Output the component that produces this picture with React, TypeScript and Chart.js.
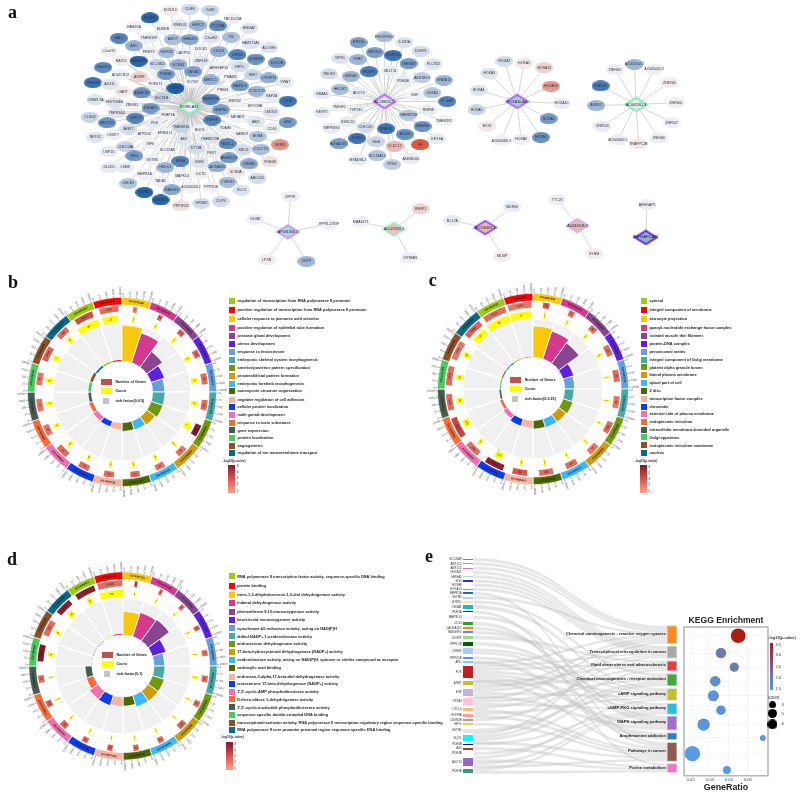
import React, { useEffect, useRef } from 'react';
import { Chart, registerables } from 'chart.js';
Chart.register(...registerables);

type Gene = [string, number, number, number];

// ---------- network a: [gene, layoutX, layoutY, logFC]
const hub1Genes: Gene[] = [
  ['KCNJ10',507,25,.05],['CLMN',566,22,-.15],['GJB2',628,25,-.2],['TBC1D22A',695,50,-.02],['NLRP2',446,48,-.95],['FAM25A',398,75,-.02],['EDNRB',485,80,-.02],['RNF141',537,69,-.1],['HERC5',591,70,-.45],['TTC39A',651,72,-.7],['HMGA2',745,79,-.1],['GALC',353,109,-.75],['TMEM109',443,108,-.05],['AMOT',515,113,-.35],['RHBDD1',566,113,-.5],['C2orf82',630,108,-.1],['PI3',691,106,-.35],['FAM171A1',750,125,-.1],['ALOXE3',805,138,-.1],['ARC',398,132,-.45],['PRMT3',442,150,-.02],['NKIRS2',497,152,-.35],['CADPS2',547,154,-.02],['DOCK1',600,142,-.02],['CXCL6',653,149,-.45],['LRRC6',710,159,-.75],['CDKN2B',765,172,-.65],['DOC2B',829,183,-.6],['C1orf74',322,148,-.02],['NATD1',360,177,.05],['RASGRP4',412,178,-.95],['SLC7A11',469,188,-.2],['KCNS3',532,189,-.45],['ZNF618',600,178,-.1],['HEYL',717,195,-.15],['C8orf101',305,197,-.7],['ARHGEF10',654,198,-.02],['ADIRF',414,226,.2],['ALS2CR12',357,220,-.02],['PDE3B',494,218,-.6],['ONGA1',576,210,-.55],['MIR1C1',629,235,-.45],['PMAM2',689,226,-.02],['MRO',756,220,-.2],['CYP4F11',804,229,-.45],['VWA7',854,242,-.05],['PRKCH',274,243,-.85],['ALG1L',325,248,-.1],['DEXI',523,260,-1],['POFUT1',463,248,-.02],['KCT09',575,242,-.02],['FAM3C4',717,253,-.6],['CIART',364,271,.05],['ARMCX3',421,274,-.65],['PRE84',666,266,-.02],['CCDC170',768,269,-.4],['RAP2A',813,283,-.05],['SLC31B',481,289,-.25],['ZNF202',701,298,-.02],['OSBPL7A',282,295,-.1],['HIST1H4B',339,303,-.1],['ZNF845',392,310,-.02],['CDTK',862,299,-.85],['STEAP2',448,320,-.6],['PAWR100',629,293,-.75],['MYO18B',763,313,-.02],['MMRN2',660,325,-.55],['LMOD3',811,332,-.1],['TMPRSS4',346,334,-.1],['CLDN2',265,347,-.2],['FKBP1A',501,340,-.02],['GIPC2',402,350,-.75],['ENPEP',634,356,-.75],['METAP1',711,348,-.02],['ABI2',765,361,-.1],['SIX4',861,363,-.6],['MUDT12',317,364,-.65],['PDS',459,365,-.05],['TMEM236',540,378,-.2],['NGO1',596,385,-.02],['YDAIM',673,379,-.02],['CD14',814,382,-.05],['AVKIT',381,383,-.15],['SAMD9',723,397,-.02],['BORA',771,405,-.3],['ATP5G2',429,398,-.02],['EPB41L1',492,396,-.02],['NET02',281,408,-.1],['CHST7',335,401,-.02],['AK3',548,414,-.1],['TMEM170B',627,412,-.1],['SRMS',838,430,.6],['CLEC18A',372,436,-.2],['IRF6',447,428,-.02],['NKX1-2',680,427,-.7],['SNCG',728,445,-.15],['CCDC71L',781,444,-.35],['USP25',322,451,-.05],['STT3B',585,441,-.15],['HRG',399,464,-.6],['SLC25A8',498,447,-.02],['PEX7',632,454,-.05],['ANKRD22',684,470,-.6],['PDE6B',808,482,.12],['GSTM5',453,475,-.02],['USH2',595,483,-.1],['N8EA',538,480,-.75],['GREB5',745,488,-.5],['CACNA2D2',648,497,-.45],['GLUD1',323,499,-.05],['LSM8',371,499,-.05],['HKDC1',492,499,-.4],['SCN8A',705,513,.08],['ABCC01',770,531,-.15],['BMPR1A',430,519,-.02],['MAPK14',543,524,-.02],['DCTD',600,518,-.02],['TADA1',478,540,-.02],['CYB5R2',680,543,-.35],['LMCH1',381,547,-.3],['RASSF2',512,566,-.5],['AC004203.2',570,558,-.02],['PPP3CB',630,558,-.02],['KLC3',722,567,-.1],['LISPN1',429,574,-.95],['GALNT1',478,597,-.95],['PPP1R02',540,614,.12],['GPSM2',601,607,-.15],['CLIP4',660,601,-.15],
];
const hub2Genes: Gene[] = [
  ['PHOSPHO1',1153,105,-.35],['HTR1D',1075,122,-.55],['IL10RA',1213,121,-.1],['DUSP1',1263,148,-.15],['IMRG02',1124,152,-.55],['ZDHHC2',1179,161,-.85],['VIPR1',1019,170,-.1],['P3H2',1073,173,-.4],['TMEM37',1226,186,-.6],['PLCXD2',1301,187,-.1],['FCGRT',1107,210,-.8],['MLLT11',1171,207,-.05],['MXRA5',1052,224,-.4],['TMOD2',986,217,-.15],['AKR1B15',1266,228,-.25],['PDE4B',1209,237,-.05],['SPATA12',1332,236,-.4],['HECW2',1019,263,-.35],['ADCY4',1076,273,-.05],['GSTA4',1297,274,-.3],['ESF',1245,282,-.02],['NRAA1',965,277,-.05],['FCGBP',1342,300,-.75],['TMIGF2',1017,316,-.02],['TVP23C',1068,326,-.05],['RNF38',1285,327,-.05],['REXP2',965,333,-.05],['TMEM255B',1225,341,-.3],['TMEM192',1333,358,-.02],['USRC20',1042,361,-.05],['CLEC2D',1096,377,-.15],['SMIM30',1268,375,-.65],['TMPRSS3',993,380,-.05],['RNAGD',1158,382,-.85],['AC006',1215,399,-.65],['ST3G2',1071,411,-.85],['B4GALNT1',1016,427,-.55],['EDA',1128,421,-.2],['KIF16A',1312,413,-.05],['F8',1261,430,.95],['CCDC17',1184,435,.35],['SLC16A14',1131,463,-.3],['ANKRD44',1232,473,-.05],['MYADML2',1073,476,-.05],['RTN2',1176,490,-.25],
];
const hub3Genes: Gene[] = [
  ['HOXA7',1515,179,-.15],['HOXA1',1574,185,.07],['HOXA11',1635,198,.2],['HOXA5',1469,215,-.1],['HOXA13',1655,254,.55],['HOXA4',1437,266,-.1],['HOXA10',1687,306,-.05],['HOXA2',1431,325,-.2],['HOXA6',1648,352,-.6],['EVX1',1463,375,.07],['HOXA3',1625,408,-.65],['AC006080.3',1505,419,-.02],['HOXA9',1565,414,-.03],
];
const hub4Genes: Gene[] = [
  ['AC005002.2',1907,188,-.4],['ZNF605',1848,204,-.03],['AC005002.3',1966,203,-.03],['ZNF546',1805,253,-.8],['ZNF264',2012,243,.05],['ZNF304',2031,304,-.03],['AURKC',1792,312,-.4],['ZNF543',1810,374,-.05],['ZNF547',2019,364,-.03],['AC003002.1',1857,416,-.03],['ZNF460',1980,410,-.03],['TRAPPC2B',1919,428,.08],
];
const hub5Genes: Gene[] = [['ZFP91',870,587,-.03],['GLYAT',764,655,-.03],['ZFP91-CNTF',985,670,-.02],['LPXN',798,777,.05],['CNTF',918,782,-.4]];
const hub6Genes: Gene[] = [['KIAA1671',1081,663,-.02],['RSRP1',1262,624,.2],['CRYBB3',1230,771,-.03]];
const hub7Genes: Gene[] = [['BCL7A',1358,659,-.05],['WDR66',1538,618,-.05],['MLXIP',1508,767,.05]];
const hub8Genes: Gene[] = [['TTC23',1674,596,-.03],['SYNM',1785,759,.05]];
const hub9Genes: Gene[] = [['ARHGAP5',1945,611,-.03]];
const hubNames = ['RORF-AS1','AL139055.1','HOXA10-AS','AC005261.3','AP001350.1','AL022323.1','AC158465.1','AC036108.2','ARHGAP5-AS1'];
const hubX = [565,1153,1553,1912,862,1182,1457,1735,1941];
const hubY = [317,300,300,309,693,685,680,674,710];
const hubFc = [-.03,-.1,-.3,-.05,-.25,.3,.35,.35,-.45];
const hubRim = ['#7ff0b4','#a860f4','#a860f4','#6ff0a8','#c09af4','#9cf0c4','#8a40f0','#cdb0fa','#5a10f0'];

// ---------- GO circles
const sectorColors = ['#9dc814','#ff0000','#f8c80c','#d63a8e','#8a4590','#5a22e0','#64a0dc','#4aa8a8','#70980a','#cc9c0c','#3cb8f8','#4c6800','#f8b4a0','#0c3cf0','#f070b0','#f86c3c','#485c50','#4cc860','#8c5028','#086888'];
const bTerms = ['regulation of transcription from RNA polymerase II promoter','positive regulation of transcription from RNA polymerase II promoter','cellular response to jasmonic acid stimulus','positive regulation of epithelial tube formation','prostate gland development','uterus development','response to testosterone','embryonic skeletal system morphogenesis','anterior/posterior pattern specification','proximal/distal pattern formation','embryonic forelimb morphogenesis','actomyosin structure organization','negative regulation of cell adhesion','cellular protein localization','male gonad development','response to toxic substance','gene expression','protein localization','angiogenesis','regulation of ion transmembrane transport'];
const bIds = ['GO:0006357','GO:0045944','GO:0071395','GO:1905278','GO:0030850','GO:0060065','GO:0033574','GO:0048704','GO:0009952','GO:0009954','GO:0035115','GO:0031032','GO:0007162','GO:0034613','GO:0008584','GO:0009636','GO:0010467','GO:0008104','GO:0001525','GO:0034765'];
const bGenes = ['3724','1391','6','28','103','152','85','55','96','60','59','64','74','78','91','88','97','96','1254','126'];
const bGeneSweep = [13,13,3,3,4.5,5.5,7.5,7,8,7,6.5,6.5,7,7.5,8.5,7.5,8.5,8.5,10,8.5];
const bTone = [4.5,3,2,3,3,3,3,3,8,2.5,2.5,3,3,3,3,2.5,2.5,2.5,3.5,3];
const bCount = ['34','23','1','2','2','3','4','4','7','3','3','3','3','3','4','4','5','6','7','6'];
const bCountSweep = [17,12,1.5,1.6,2,3,3.7,3.7,5.2,2,2,2,2,2,2.6,2.6,3,3.7,4.2,3.7];
const bRich = [.026,.02,.47,.41,.25,.18,.155,.158,.158,.13,.118,.11,.087,.074,.066,.053,.04,.04,.04,.026];

const cTerms = ['cytosol','integral component of membrane','astrocyte projection','guanyl-nucleotide exchange factor complex','striated muscle thin filament','protein-DNA complex','peroxisomal matrix','integral component of Golgi membrane','platelet alpha granule lumen','lateral plasma membrane','apical part of cell','Z disc','transcription factor complex','chromatin','external side of plasma membrane','endoplasmic reticulum','intracellular membrane-bounded organelle','Golgi apparatus','endoplasmic reticulum membrane','nucleus'];
const cIds = ['GO:0005829','GO:0016021','GO:0097449','GO:0032045','GO:0005865','GO:0032993','GO:0005782','GO:0030173','GO:0031093','GO:0016328','GO:0045177','GO:0030018','GO:0005667','GO:0000785','GO:0009897','GO:0005783','GO:0043231','GO:0005794','GO:0005789','GO:0005634'];
const cGenes = ['5477','4408','18','75','80','96','92','88','106','74','84','186','204','1261','198','2314','1042','2045','1856','2498'];
const cGeneSweep = [16,16,4.5,4,5,7.5,8,8,8,7.5,8,9.5,10,13,10,14,11,13,13,13];
const cTone = [3,2.5,4,3,3,3,3,2.5,3,2.5,3,3,4,7.5,3,5,3,3,2.5,3.5];
const cCount = ['85','57','1','1','1','1','1','1','1','1','1','1','2','127','9','125','55','51','28','107'];
const cCountSweep = [18,16,1.3,1.3,1.6,1.6,1.3,1.3,1.3,1.6,1.6,1.6,1.8,5.7,2.6,5.7,4.1,3.9,3.9,11];
const cRich = [.007,.005,.204,.19,.164,.072,.064,.059,.066,.059,.057,.053,.046,.046,.031,.02,.013,.01,.009,.007];

const dTerms = ['RNA polymerase II transcription factor activity, sequence-specific DNA binding','protein binding','trans-1,2-dihydrobenzene-1,2-diol dehydrogenase activity','indanol dehydrogenase activity','phenanthrene 9,10-monooxygenase activity','ketosteroid monooxygenase activity','cytochrome-b5 reductase activity, acting on NAD(P)H','alditol:NADP+ 1-oxidoreductase activity','androsterone dehydrogenase activity','17-beta-hydroxysteroid dehydrogenase (NADP+) activity','oxidoreductase activity, acting on NAD(P)H, quinone or similar compound as acceptor','carboxylic acid binding','androstan-3-alpha,17-beta-diol dehydrogenase activity','testosterone 17-beta-dehydrogenase (NADP+) activity',"3',5'-cyclic-AMP phosphodiesterase activity",'D-threo-aldose 1-dehydrogenase activity',"3',5'-cyclic-nucleotide phosphodiesterase activity",'sequence-specific double-stranded DNA binding','transcriptional activator activity, RNA polymerase II transcription regulatory region sequence-specific binding','RNA polymerase II core promoter proximal region sequence-specific DNA binding'];
const dIds = ['GO:0000981','GO:0005515','GO:0047115','GO:0047718','GO:0018636','GO:0047086','GO:0090560','GO:0004032','GO:0047023','GO:0072582','GO:0016655','GO:0031406','GO:0047024','GO:0047045','GO:0004115','GO:0047834','GO:0004114','GO:1990837','GO:0001228','GO:0000978'];
const dGenes = ['1200','12696','2','9','14','18','27','35','30','43','24','20','20','26','33','28','41','982','764','1021'];
const dGeneSweep = [14,17,2,2.3,3,3.2,4.2,4.5,4.2,5.7,4.2,3.7,3.7,4.2,5,4.5,5,11.5,11,11.5];
const dTone = [7.5,3,5,3,2.5,3,2.5,3,3,3.5,3,3,3.5,3,3.5,3.5,3,8,3,7.5];
const dCount = ['14','134','1','1','1','1','1','2','1','1','1','1','1','1','1','1','1','9','8','16'];
const dCountSweep = [3.6,18,.8,1,1,1,1,2,1,1,1,1,1,1,1,1,1,3,2.6,4.2];
const dRich = [.016,.035,.63,.68,.71,.38,.28,.29,.33,.33,.32,.24,.25,.28,.27,.2,.18,.016,.016,.016];

const tickNames = ['0','10','100','1000','10000'];
const toneTicks = ['8','6','4','2','0'];

// ---------- legend rows (layout units)
const bRowY = [91,119,146,172,198,221,246,270,293,317,341,364,389,412,434,458,482,505,528,550];
const cRowY = [91,118,146,172,197,221,246,269,292,315,339,362,388,411,433,456,480,503,527,549];
const dRowY = [112,140,167,193,220,243,269,293,316,339,365,387,414,436,459,483,507,530,554,576];

// ---------- sankey e
const geneNodes = ['SLC26A9','AKR1C2','AKR1C1','HOXA11','HMGA2','SIX3','HOXB8','HOXA10','BMPR1A','GSTM5','HTR1D','ONGA1','PDE3B','MAP3K14','CD14','CACNA2D2','RASGRF2','DUSP1','PPP1CB','CREB5','PPP3CB','ARC','FOS','ARNT','EGF','GSTA4','CXCL6','EDNRB','CDKN2B','HEYL','GSTM5','NQO1','PDE6B','AK3','PDE4B','ADCY4','PDE3B'];
const geneY = [61,74,87,100,113,126,138,151,163,176,189,204,219,235,254,269,281,297,315,338,358,371,400,434,461,489,512,530,545,558,577,600,618,631,646,672,698];
const geneWeight = [4,3,4,2,4,6,2,4,5,5,5,12,4,10,10,5,6,10,11,18,5,5,36,13,22,20,10,10,5,5,12,17,4,5,2,25,11];
const geneColors = ['#2d8ff0','#a0a0a0','#e070c0','#ffffff','#b0d8f0','#3030d0','#ffffff','#00d0d0','#1070c0','#b0d8e8','#ffe0b0','#20b8c8','#104040','#f6f8f8','#30a030','#ff8820','#9070f0','#98e080','#006000','#b0c8f0','#6090f0','#80d0f0','#c02020','#c0c030','#c8b0e0','#ffc0e0','#ffb878','#ff9c98','#d09090','#d8d850','#e4e4e4','#00ffff','#101090','#a04030','#ffffff','#9868c0','#409090'];
const pathways = ['Chemical carcinogenesis - reactive oxygen species','Transcriptional misregulation in cancer','Fluid shear stress and atherosclerosis','Chemical carcinogenesis - receptor activation','cAMP signaling pathway','cGMP-PKG signaling pathway','MAPK signaling pathway','Amphetamine addiction','Pathways in cancer','Purine metabolism'];
const pathwayY = [288,340,382,424,468,511,554,594,641,690];
const pathwayWeight = [53,36,31,37,37,33,41,20,57,26];
const pathwayColors = ['#ff8820','#a8a8a8','#e04040','#40a840','#c0c030','#28c0d8','#a070c8','#2f80c0','#905a50','#e878c8'];
const linkFrom = [0,1,2,3,4,5,6,7,8,9,10,11,12,13,14,15,16,17,18,19,19,20,21,22,22,22,22,22,22,22,23,23,24,24,24,24,25,25,25,26,26,27,27,28,29,30,31,31,31,31,32,33,34,35,35,35,35,36,36];
const linkTo   = [0,0,0,1,1,1,1,1,8,0,3,4,9,6,8,6,4,2,5,4,5,5,7,0,1,2,4,5,6,8,2,3,0,1,4,6,0,3,5,2,8,4,8,1,8,3,0,2,3,8,5,9,5,4,9,5,8,5,9];

// ---------- KEGG bubbles
const keggRatio = [.04496,.0359,.0429,.0329,.0319,.0359,.0268,.0579,.0209,.039];
const keggLogP = [3.5,2.0,1.95,1.7,1.6,1.62,1.58,1.5,1.5,1.5];
const keggCount = [8.6,6.2,5.5,6.2,6.5,5.6,7.3,3.5,9,4.7];
const keggTicks = [.02,.03,.04,.05];
const keggLegendCounts = [4,5,6];
const keggLogTicks = ['3.5','3.0','2.5','2.0','1.5'];

// ---------- helpers
const rgb = (h: string) => [parseInt(h.slice(1, 3), 16), parseInt(h.slice(3, 5), 16), parseInt(h.slice(5, 7), 16)];
const mix = (a: string, b: string, t: number) => {
  const p = rgb(a), q = rgb(b);
  return `rgb(${p.map((v, i) => Math.round(v + (q[i] - v) * t)).join(',')})`;
};
const fcColor = (f: number) => (f < 0 ? mix('#f2f3f6', '#1e5ba6', -f) : mix('#f2f3f6', '#d94f36', f));
const toneColor = (t: number) => (t < 4 ? mix('#fca58a', '#d8584e', t / 4) : mix('#d8584e', '#80182c', (t - 4) / 4));
const keggColor = (v: number) => mix('#5a9ae0', '#a91f0e', (v - 1.5) / 2);
const keggR = (c: number) => c * 0.85;

const sprite = (w: number, h: number, draw: (c: CanvasRenderingContext2D, w: number, h: number) => void) => {
  const cv = document.createElement('canvas');
  cv.width = Math.max(1, Math.round(w));
  cv.height = Math.max(1, Math.round(h));
  draw(cv.getContext('2d')!, cv.width, cv.height);
  return cv;
};
const ellipseSprite = (w: number, h: number, color: string) =>
  sprite(w, h, (c, W, H) => { c.fillStyle = color; c.beginPath(); c.ellipse(W / 2, H / 2, W / 2, H / 2, 0, 0, 7); c.fill(); });
const diamondSprite = (w: number, h: number, fill: string, rim: string) =>
  sprite(w, h, (c, W, H) => {
    c.fillStyle = fill; c.strokeStyle = rim; c.lineWidth = 1.6;
    c.beginPath(); c.moveTo(W / 2, 1.2); c.lineTo(W - 1.5, H / 2); c.lineTo(W / 2, H - 1.2); c.lineTo(1.5, H / 2); c.closePath(); c.fill(); c.stroke();
  });
const rectSprite = (w: number, h: number, color: string, halo?: string) =>
  sprite(w, h, (c, W, H) => {
    c.fillStyle = color; c.fillRect(0, 0, W, H);
    if (halo) { c.strokeStyle = halo; c.lineWidth = 1; c.strokeRect(.5, .5, W - 1, H - 1); }
  });
const barSprite = (w: number, h: number, top: string, mid: string, bottom: string) =>
  sprite(w, h, (c, W, H) => {
    const g = c.createLinearGradient(0, 0, 0, H);
    g.addColorStop(0, top); g.addColorStop(.5, mid); g.addColorStop(1, bottom);
    c.fillStyle = g; c.fillRect(0, 0, W, H);
  });

type TextItem = { t: string; x: number; y: number; f: string; a?: CanvasTextAlign; c?: string; b?: CanvasTextBaseline };
const NS = '"Liberation Sans"';

const circlePanels = [
  { cx: 122, cy: 392, R: 95, gray: 69, hole: 31, max: .5, terms: bTerms, ids: bIds, genes: bGenes, geneSweep: bGeneSweep, tone: bTone, count: bCount, countSweep: bCountSweep, rich: bRich },
  { cx: 533, cy: 389, R: 96, gray: 70, hole: 32, max: .25, terms: cTerms, ids: cIds, genes: cGenes, geneSweep: cGeneSweep, tone: cTone, count: cCount, countSweep: cCountSweep, rich: cRich },
  { cx: 123, cy: 666, R: 94.5, gray: 68.7, hole: 31.7, max: 1, terms: dTerms, ids: dIds, genes: dGenes, geneSweep: dGeneSweep, tone: dTone, count: dCount, countSweep: dCountSweep, rich: dRich },
];
const FRAME = 112;
const SECTOR = 18;

const boxRing = (sweep: number[]) => sweep.flatMap(w => [(SECTOR - w) / 2, w, (SECTOR - w) / 2]);
const boxColors = (cols: string[]) => cols.flatMap(c => ['rgba(0,0,0,0)', c, 'rgba(0,0,0,0)']);

const makeRingPlugin = (ids: string[], genes: string[], count: string[]) => ({
  id: 'ringText',
  afterDatasetsDraw(chart: any) {
    const ctx = chart.ctx;
    ctx.save();
    ctx.textBaseline = 'middle';
    const tangent = (a: number) => (Math.sin(a) > 0 ? a - Math.PI / 2 : a + Math.PI / 2);
    const put = (t: string, x: number, y: number, r: number, font: string, color: string, align: CanvasTextAlign = 'center') => {
      ctx.save(); ctx.translate(x, y); ctx.rotate(r); ctx.font = font; ctx.fillStyle = color; ctx.textAlign = align; ctx.fillText(t, 0, 0); ctx.restore();
    };
    chart.getDatasetMeta(0).data.forEach((arc: any, i: number) => {
      const { x, y, startAngle: s, endAngle: e, innerRadius: ri, outerRadius: ro } = arc;
      const m = (s + e) / 2, rm = (ri + ro) / 2;
      put(ids[i], x + Math.cos(m) * rm, y + Math.sin(m) * rm, tangent(m), `bold 2.7px ${NS}`, '#222');
      tickNames.forEach((name, k) => {
        const a = s + (e - s) * (.04 + k * .225);
        const c = Math.cos(a), n = Math.sin(a);
        ctx.strokeStyle = '#555'; ctx.lineWidth = .5;
        ctx.beginPath(); ctx.moveTo(x + c * ro, y + n * ro); ctx.lineTo(x + c * (ro + 2), y + n * (ro + 2)); ctx.stroke();
        const left = c < 0;
        put(name, x + c * (ro + 2.6), y + n * (ro + 2.6), left ? a + Math.PI : a, `2.8px ${NS}`, '#555', left ? 'right' : 'left');
      });
    });
    ([[2, genes], [4, count]] as [number, string[]][]).forEach(([idx, labels]) => {
      chart.getDatasetMeta(idx).data.forEach((arc: any, i: number) => {
        if (i % 3 !== 1) return;
        const { x, y, startAngle: s, endAngle: e, innerRadius: ri, outerRadius: ro } = arc;
        const m = (s + e) / 2, rm = (ri + ro) / 2;
        put(labels[(i - 1) / 3], x + Math.cos(m) * rm, y + Math.sin(m) * rm, tangent(m), `2.8px ${NS}`, '#222');
      });
    });
    ctx.restore();
  },
});

const holePlugin = {
  id: 'holeDisc',
  afterDatasetsDraw(chart: any) {
    const s = chart.scales.r;
    const ctx = chart.ctx;
    ctx.save();
    ctx.fillStyle = '#fff';
    ctx.beginPath();
    ctx.arc(s.xCenter, s.yCenter, s.getDistanceFromCenterForValue(0), 0, Math.PI * 2);
    ctx.fill();
    ctx.restore();
  },
};

const plotFrame = {
  id: 'plotFrame',
  beforeDatasetsDraw(chart: any) {
    const { left, top, width, height } = chart.chartArea;
    const ctx = chart.ctx;
    ctx.save(); ctx.strokeStyle = '#b9b9b9'; ctx.lineWidth = 1.6; ctx.strokeRect(left, top, width, height); ctx.restore();
  },
};

function buildPage() {
  const texts: TextItem[] = [];
  const datasets: any[] = [];
  const addMarks = (pts: { x: number; y: number }[], styles: any[], order = 1) =>
    datasets.push({ data: pts, pointStyle: styles, pointRadius: 2, pointHoverRadius: 2, showLine: false, order, borderWidth: 0 });

  const allHubs = [hub1Genes, hub2Genes, hub3Genes, hub4Genes, hub5Genes, hub6Genes, hub7Genes, hub8Genes, hub9Genes];
  const font = `3.5px ${NS}`;
  allHubs.forEach((genes, h) => {
    const hub = { x: hubX[h], y: hubY[h] };
    datasets.push({
      data: genes.flatMap(g => [hub, { x: g[1], y: g[2] }, { x: NaN, y: NaN }]),
      showLine: true, spanGaps: false, pointRadius: 0, borderColor: '#bcbcbc', borderWidth: .6, order: 10,
    });
    addMarks(genes.map(g => ({ x: g[1], y: g[2] })), genes.map(g => ellipseSprite(18, 10.5, fcColor(g[3]))), 5);
    genes.forEach(g => texts.push({ t: g[0], x: g[1], y: g[2], f: font, c: '#333' }));
    addMarks([hub], [diamondSprite(25, 16, fcColor(hubFc[h]), hubRim[h])], 2);
    texts.push({ t: hubNames[h], x: hub.x, y: hub.y, f: `3.7px ${NS}`, c: '#222' });
  });

  const legends = [
    { x0: 0, y0: 810, sw: 694, tx: 710, rows: bRowY, terms: bTerms, rich: 'rich factor(0-0.5)', lsw: 315, ltx: 342, ly: [335, 364, 392], bar: [692, 585, 670], bt: [590, 608, 627, 645, 664], btx: 708, tt: 700, tty: 573 },
    { x0: 1200, y0: 810, sw: 735, tx: 752, rows: cRowY, terms: cTerms, rich: 'rich-factor(0-0.25)', lsw: 347, ltx: 376, ly: [330, 358, 388], bar: [735, 587, 671], bt: [592, 610, 628, 647, 665], btx: 749, tt: 742, tty: 574 },
    { x0: 0, y0: 1620, sw: 693, tx: 709, rows: dRowY, terms: dTerms, rich: 'rich-factor(0-1)', lsw: 318, ltx: 345, ly: [349, 377, 406], bar: [685, 612, 696], bt: [617, 635, 654, 673, 691], btx: 700, tt: 695, tty: 598 },
  ];
  legends.forEach(l => {
    addMarks(l.rows.map(y => ({ x: l.x0 + l.sw, y: l.y0 + y })), sectorColors.map(c => rectSprite(6, 6, c)));
    l.rows.forEach((y, i) => texts.push({ t: l.terms[i], x: l.x0 + l.tx, y: l.y0 + y, f: `bold 3.95px ${NS}`, a: 'left', c: '#222' }));
    addMarks(l.ly.map(y => ({ x: l.x0 + l.lsw, y: l.y0 + y })), [rectSprite(10.5, 5.5, '#bd5350'), rectSprite(10.5, 5.5, '#ffff00'), rectSprite(6, 5.5, '#c4c4c4')]);
    ['Number of Genes', 'Count', l.rich].forEach((t, i) => texts.push({ t, x: l.x0 + l.ltx, y: l.y0 + l.ly[i], f: `bold 3.7px ${NS}`, a: 'left', c: '#222' }));
    addMarks([{ x: l.x0 + l.bar[0], y: l.y0 + (l.bar[1] + l.bar[2]) / 2 }], [barSprite(7, (l.bar[2] - l.bar[1]) / 3, '#80182c', '#d8584e', '#fca58a')]);
    l.bt.forEach((y, i) => texts.push({ t: toneTicks[i], x: l.x0 + l.btx, y: l.y0 + y, f: `3.2px ${NS}`, a: 'left', c: '#333' }));
    texts.push({ t: '-log10(p-value)', x: l.x0 + l.tt, y: l.y0 + l.tty, f: `bold 3.2px ${NS}`, c: '#333' });
  });

  const S = { x: 1320, y: 1620 };
  addMarks(geneY.map(y => ({ x: S.x + 86.5, y: S.y + y })), geneWeight.map((h, i) => rectSprite(10, h / 3, geneColors[i])), 3);
  geneNodes.forEach((t, i) => texts.push({ t, x: S.x + 66, y: S.y + geneY[i], f: `2.9px ${NS}`, a: 'right', c: '#333' }));
  addMarks(pathwayY.map(y => ({ x: S.x + 700, y: S.y + y })), pathwayWeight.map((h, i) => rectSprite(11, h / 3 + 1, pathwayColors[i], '#e4e4e4')), 3);
  pathways.forEach((t, i) => texts.push({ t, x: S.x + 682, y: S.y + pathwayY[i] - 2, f: `bold 4.1px ${NS}`, a: 'right', c: '#222' }));

  addMarks([{ x: S.x + 1001, y: S.y + 384 }], [barSprite(3, 47, '#a91f0e', '#82598a', '#5a9ae0')]);
  texts.push({ t: '-log10(p-value)', x: S.x + 990, y: S.y + 297, f: `bold 3.9px ${NS}`, a: 'left', c: '#333' });
  [317, 350, 384, 418, 451].forEach((y, i) => texts.push({ t: keggLogTicks[i], x: S.x + 1012, y: S.y + y, f: `4.1px ${NS}`, a: 'left', c: '#333' }));
  texts.push({ t: 'count', x: S.x + 990, y: S.y + 479, f: `4.6px ${NS}`, a: 'left', c: '#333' });
  const circleY = [499, 525, 558];
  addMarks(keggLegendCounts.map((_, i) => ({ x: S.x + 1003, y: S.y + circleY[i] })), keggLegendCounts.map(c => ellipseSprite(keggR(c) * 2, keggR(c) * 2, '#000')));
  keggLegendCounts.forEach((c, i) => texts.push({ t: String(c), x: S.x + 1030, y: S.y + circleY[i], f: `4.2px ${NS}`, a: 'left', c: '#333' }));

  const letterX = [18, 18, 1287, 15, 1275];
  const letterY = [48, 861, 855, 1698, 1688];
  ['a', 'b', 'c', 'd', 'e'].forEach((t, i) => texts.push({ t, x: letterX[i], y: letterY[i], f: 'bold 18px "Liberation Serif"', a: 'left', c: '#111', b: 'alphabetic' }));

  const sankeyPlugin = {
    id: 'sankeyLinks',
    beforeDatasetsDraw(chart: any) {
      const { x: sx, y: sy } = chart.scales;
      const ctx = chart.ctx;
      const srcN = geneNodes.map((_, i) => linkFrom.filter(v => v === i).length);
      const dstN = pathways.map((_, i) => linkTo.filter(v => v === i).length);
      const srcUsed = geneNodes.map(() => 0);
      const dstUsed = pathways.map(() => 0);
      ctx.save();
      ctx.fillStyle = 'rgba(196,196,196,.42)';
      const x0 = sx.getPixelForValue(S.x + 101), x1 = sx.getPixelForValue(S.x + 685), xm = (x0 + x1) / 2;
      linkFrom.forEach((s, k) => {
        const d = linkTo[k];
        const sw = Math.max(geneWeight[s], 9 * srcN[s]) / srcN[s];
        const sTop = geneY[s] - (sw * srcN[s]) / 2 + sw * srcUsed[s]++;
        const dw = pathwayWeight[d] / dstN[d];
        const dTop = pathwayY[d] - pathwayWeight[d] / 2 + dw * dstUsed[d]++;
        const a = sy.getPixelForValue(S.y + sTop), b = sy.getPixelForValue(S.y + sTop + sw);
        const c = sy.getPixelForValue(S.y + dTop), e = sy.getPixelForValue(S.y + dTop + dw);
        ctx.beginPath();
        ctx.moveTo(x0, a);
        ctx.bezierCurveTo(xm, a, xm, c, x1, c);
        ctx.lineTo(x1, e);
        ctx.bezierCurveTo(xm, e, xm, b, x0, b);
        ctx.closePath();
        ctx.fill();
      });
      ctx.restore();
    },
  };
  const textPlugin = {
    id: 'pageText',
    afterDatasetsDraw(chart: any) {
      const { x: sx, y: sy } = chart.scales;
      const ctx = chart.ctx;
      ctx.save();
      texts.forEach(i => {
        ctx.font = i.f; ctx.fillStyle = i.c || '#333'; ctx.textAlign = i.a || 'center'; ctx.textBaseline = i.b || 'middle';
        ctx.fillText(i.t, sx.getPixelForValue(i.x), sy.getPixelForValue(i.y));
      });
      ctx.restore();
    },
  };
  return { datasets, plugins: [sankeyPlugin, textPlugin] };
}

export default function App() {
  const pageRef = useRef<HTMLCanvasElement>(null);
  const keggRef = useRef<HTMLCanvasElement>(null);
  const polarRefs = useRef<(HTMLCanvasElement | null)[]>([]);
  const ringRefs = useRef<(HTMLCanvasElement | null)[]>([]);

  useEffect(() => {
    const charts: Chart[] = [];
    circlePanels.forEach((p, i) => {
      charts.push(new Chart(polarRefs.current[i]!, {
        type: 'polarArea',
        data: {
          labels: p.terms,
          datasets: [
            { data: p.rich, backgroundColor: sectorColors, borderColor: '#fff', borderWidth: .8 },
            { data: p.rich.map(() => p.max), backgroundColor: '#f0f0f0', borderColor: '#fff', borderWidth: 1.2 },
          ],
        },
        options: {
          responsive: false, animation: false, devicePixelRatio: 1, events: [],
          layout: { padding: FRAME - p.gray },
          plugins: { legend: { display: false }, tooltip: { enabled: false } },
          scales: { r: { startAngle: -36, min: -(p.hole / (p.gray - p.hole)) * p.max, max: p.max, ticks: { display: false }, grid: { display: false }, angleLines: { display: false }, pointLabels: { display: false } } },
        } as any,
        plugins: [holePlugin],
      }));
      charts.push(new Chart(ringRefs.current[i]!, {
        type: 'doughnut',
        data: {
          labels: p.terms,
          datasets: [
            { data: p.rich.map(() => SECTOR), backgroundColor: sectorColors, borderColor: '#fff', borderWidth: .7, weight: 7.6 },
            { data: [1], backgroundColor: 'rgba(0,0,0,0)', borderWidth: 0, weight: .9 },
            { data: boxRing(p.geneSweep), backgroundColor: boxColors(p.tone.map(toneColor)), borderWidth: 0, weight: 6 },
            { data: [1], backgroundColor: 'rgba(0,0,0,0)', borderWidth: 0, weight: 3.5 },
            { data: boxRing(p.countSweep), backgroundColor: boxColors(p.rich.map(() => '#ffff00')), borderWidth: 0, weight: 7 },
          ],
        } as any,
        options: {
          responsive: false, animation: false, devicePixelRatio: 1, events: [],
          rotation: -36, cutout: `${((p.R - 25) / p.R) * 100}%`,
          layout: { padding: FRAME - p.R },
          plugins: { legend: { display: false }, tooltip: { enabled: false } },
        } as any,
        plugins: [makeRingPlugin(p.ids, p.genes, p.count)],
      }));
    });

    const page = buildPage();
    charts.push(new Chart(pageRef.current!, {
      type: 'scatter',
      data: { datasets: page.datasets },
      options: {
        responsive: false, animation: false, devicePixelRatio: 1, events: [],
        layout: { padding: 0 },
        plugins: { legend: { display: false }, tooltip: { enabled: false } },
        scales: { x: { type: 'linear', min: 0, max: 2400, display: false }, y: { type: 'linear', min: 0, max: 2379, reverse: true, display: false } },
      } as any,
      plugins: page.plugins,
    }));

    charts.push(new Chart(keggRef.current!, {
      type: 'bubble',
      data: {
        datasets: [{
          data: keggRatio.map((x, i) => ({ x, y: pathwayY[i], r: keggR(keggCount[i]) })),
          backgroundColor: keggLogP.map(keggColor),
          borderWidth: 0,
        }],
      },
      options: {
        responsive: false, animation: false, devicePixelRatio: 1, events: [],
        layout: { padding: { left: 8, right: 32, top: 0, bottom: 0 } },
        plugins: {
          legend: { display: false }, tooltip: { enabled: false },
          title: { display: true, text: 'KEGG Enrichment', color: '#222', font: { family: NS, size: 8.6, weight: 'bold' }, padding: { top: 15.5, bottom: 1.2 } },
        },
        scales: {
          x: {
            type: 'linear', min: .0165, max: .0606,
            afterBuildTicks: (s: any) => { s.ticks = keggTicks.map(value => ({ value })); },
            afterFit: (s: any) => { s.height = 17.3; },
            grid: { color: '#f0f0f0', lineWidth: .7, drawTicks: false },
            border: { display: false },
            ticks: { padding: 2, maxRotation: 0, autoSkip: false, color: '#444', font: { family: NS, size: 4.2 }, callback: (v: any) => Number(v).toFixed(2) },
            title: { display: true, text: 'GeneRatio', color: '#222', padding: { top: 0, bottom: 0 }, font: { family: NS, size: 8.9, weight: 'bold' } },
          },
          y: {
            type: 'linear', min: 262, max: 707, reverse: true,
            afterBuildTicks: (s: any) => { s.ticks = pathwayY.map(value => ({ value })); },
            afterFit: (s: any) => { s.width = 0; },
            grid: { color: '#f0f0f0', lineWidth: .7, drawTicks: false },
            border: { display: false },
            ticks: { display: false },
          },
        },
      } as any,
      plugins: [plotFrame],
    }));
    return () => charts.forEach(c => c.destroy());
  }, []);

  const abs = (left: number, top: number): React.CSSProperties => ({ position: 'absolute', left, top, display: 'block' });
  return (
    <div style={{ position: 'absolute', left: 0, top: 0, width: 800, height: 793, overflow: 'hidden', background: '#fff', filter: 'blur(0.3px)' }}>
      {circlePanels.map((p, i) => (
        <React.Fragment key={i}>
          <canvas ref={el => { polarRefs.current[i] = el; }} width={FRAME * 2} height={FRAME * 2} style={abs(p.cx - FRAME, p.cy - FRAME)} />
          <canvas ref={el => { ringRefs.current[i] = el; }} width={FRAME * 2} height={FRAME * 2} style={abs(p.cx - FRAME, p.cy - FRAME)} />
        </React.Fragment>
      ))}
      <canvas ref={keggRef} width={124} height={193} style={abs(676, 600)} />
      <canvas ref={pageRef} width={800} height={793} style={abs(0, 0)} />
    </div>
  );
}
